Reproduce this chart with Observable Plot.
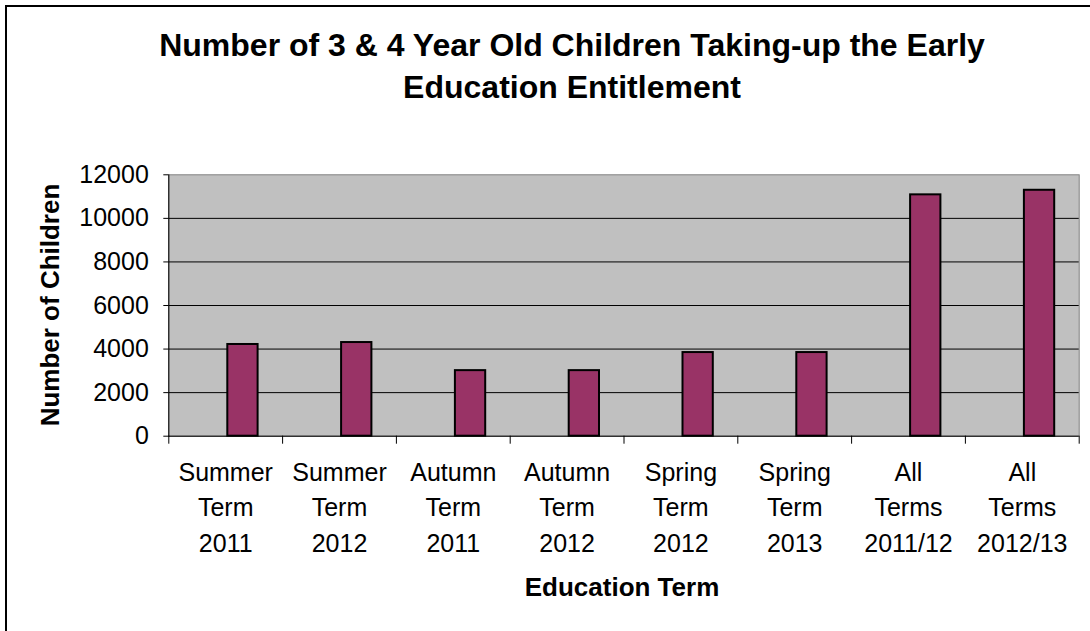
<!DOCTYPE html>
<html>
<head>
<meta charset="utf-8">
<script src="https://cdn.jsdelivr.net/npm/d3@7"></script>
<script src="https://cdn.jsdelivr.net/npm/@observablehq/plot@0.6"></script>
<style>
  body { margin: 0; background: #fff; }
  #wrap { position: relative; width: 1090px; height: 631px; overflow: hidden; font-family: "Liberation Sans", Arial, sans-serif; color: #000; }
  #border { position: absolute; left: 5px; top: 5px; width: 1200px; height: 800px; border-left: 2px solid #000; border-top: 2px solid #000; }
  #chart { position: absolute; left: 0; top: 0; }
  .title { position: absolute; left: 572px; top: 24px; transform: translateX(-50%); font-weight: bold; font-size: 32px; line-height: 42px; text-align: center; white-space: nowrap; }
  .ylab { position: absolute; left: 50px; top: 305px; transform: translate(-50%, -50%) rotate(-90deg); font-weight: bold; font-size: 26px; line-height: 26px; white-space: nowrap; }
  .xlab { position: absolute; left: 622px; top: 574px; transform: translateX(-50%); font-weight: bold; font-size: 26px; line-height: 26px; white-space: nowrap; }
</style>
</head>
<body>
<div id="wrap">
  <div id="chart"></div>
  <div id="border"></div>
  <div class="title">Number of 3 &amp; 4 Year Old Children Taking-up the Early<br>Education Entitlement</div>
  <div class="ylab">Number of Children</div>
  <div class="xlab">Education Term</div>
</div>
<script>
const terms = [
  "Summer\nTerm\n2011", "Summer\nTerm\n2012",
  "Autumn\nTerm\n2011", "Autumn\nTerm\n2012",
  "Spring\nTerm\n2012", "Spring\nTerm\n2013",
  "All\nTerms\n2011/12", "All\nTerms\n2012/13"
];
const counts = [4210, 4300, 3010, 3010, 3840, 3840, 11080, 11290];
const yTicks = [0, 2000, 4000, 6000, 8000, 10000, 12000];
const gridValues = [2000, 4000, 6000, 8000, 10000];

const data = terms.map((term, i) => ({term, count: counts[i]}));

const W = 1090, H = 631;
const mL = 168.3, mR = 11.3, mT = 174.3, mB = H - 435.7;
const bw = (W - mL - mR) / terms.length;

const chart = Plot.plot({
  width: W,
  height: H,
  marginLeft: mL,
  marginRight: mR,
  marginTop: mT,
  marginBottom: mB,
  style: {fontFamily: "'Liberation Sans', Arial, sans-serif", fontSize: "25px", color: "#000", background: "transparent", overflow: "visible"},
  x: {domain: terms, padding: 0, round: false, label: null},
  y: {domain: [0, 12000], label: null},
  marks: [
    Plot.frame({fill: "#c0c0c0", stroke: "#808080"}),
    Plot.gridY(gridValues, {stroke: "#000", strokeOpacity: 1, strokeWidth: 1}),
    Plot.barY(data, {x: "term", y: "count", fill: "#993366", stroke: "#000", strokeWidth: 2, insetLeft: 59, insetRight: 24.5}),
    Plot.ruleY([0], {stroke: "#000", strokeWidth: 1}),
    Plot.frame({anchor: "left", stroke: "#000"}),
    Plot.axisY(yTicks, {tickSize: 5, tickPadding: 15, fontSize: 25, tickFormat: d => String(d), label: null, stroke: "#000"}),
    Plot.axisX({tickSize: 0, tickPadding: 19, lineHeight: 1.43, fontSize: 25, label: null}),
    Plot.axisX({tickSize: 8, fill: "none", tickFormat: () => "", dx: -bw / 2, label: null, stroke: "#000"}),
    Plot.axisX([terms[terms.length - 1]], {tickSize: 8, fill: "none", tickFormat: () => "", dx: bw / 2, label: null, stroke: "#000"})
  ]
});
document.getElementById("chart").appendChild(chart);
</script>
</body>
</html>
